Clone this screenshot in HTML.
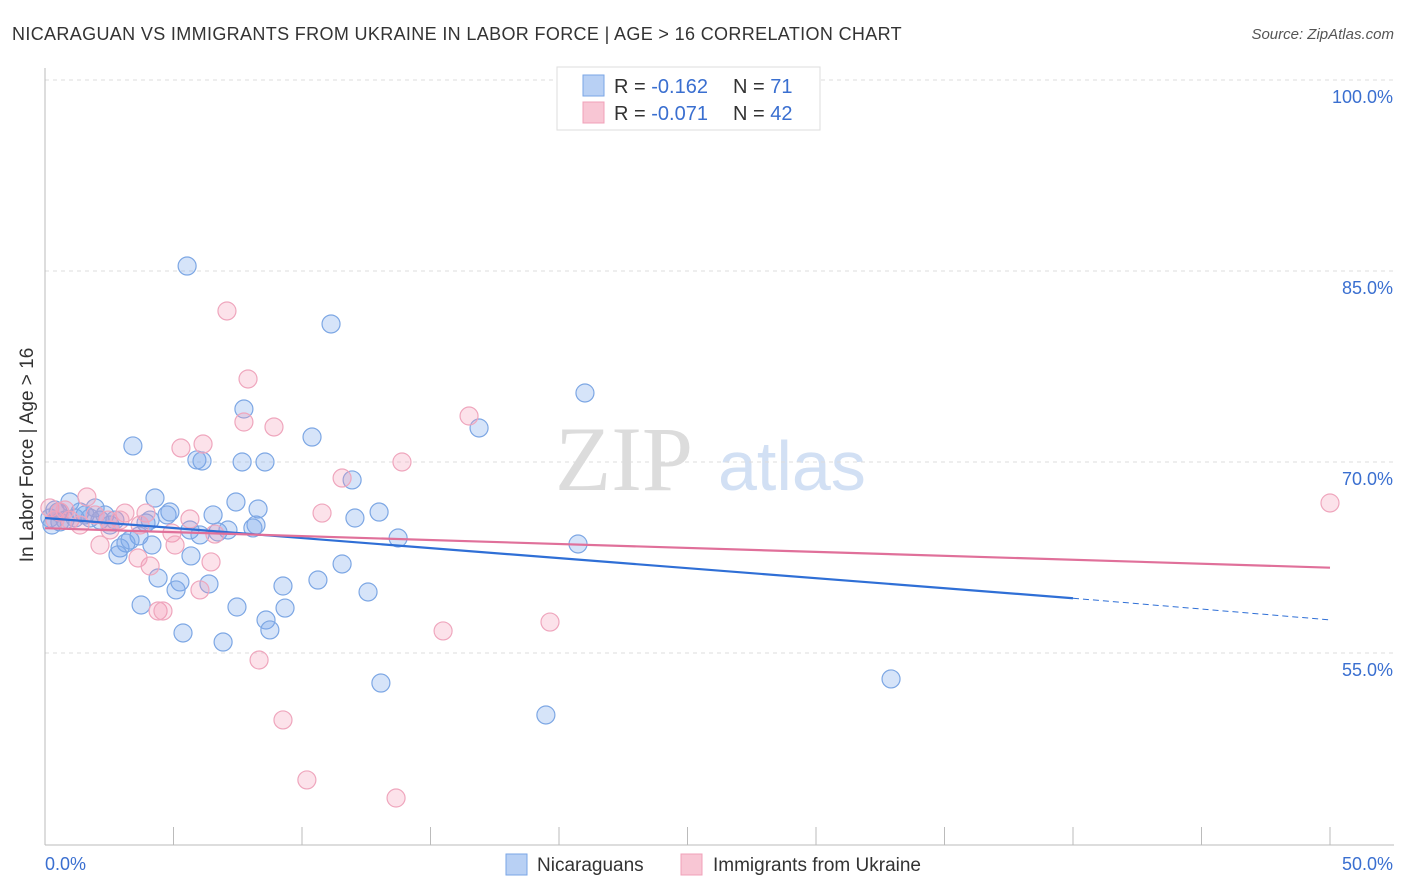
<!DOCTYPE html>
<html><head><meta charset="utf-8"><style>
body{margin:0;background:#fff;font-family:"Liberation Sans",sans-serif;}
#c{position:relative;width:1406px;height:892px;overflow:hidden;}
</style></head><body>
<div id="c">
<svg id="s" width="1406" height="892" xmlns="http://www.w3.org/2000/svg">
<text x="12" y="40" font-size="18" fill="#333" letter-spacing="0.35">NICARAGUAN VS IMMIGRANTS FROM UKRAINE IN LABOR FORCE | AGE &gt; 16 CORRELATION CHART</text>
<text x="1394" y="39" font-size="15" fill="#555" font-style="italic" text-anchor="end">Source: ZipAtlas.com</text>
<text x="555" y="490" font-size="92" fill="#dcdcdc" font-family="Liberation Serif,serif">ZIP</text>
<text x="718" y="490" font-size="70" fill="#d2e0f4">atlas</text>
<text transform="translate(33,455) rotate(-90)" font-size="19" fill="#333" text-anchor="middle">In Labor Force | Age &gt; 16</text>
<g id="grid"></g><g id="pts"></g><g id="trend"></g>
<g>
<rect x="557" y="67" width="263" height="63" fill="#fff" stroke="#ddd"/>
<rect x="583" y="75" width="21" height="21" fill="#b8d0f4" stroke="#7aa6e6"/>
<rect x="583" y="102" width="21" height="21" fill="#f8c6d4" stroke="#f0a0b8"/>
<text x="614" y="93" font-size="20" fill="#333">R = <tspan fill="#3a6fd0">-0.162</tspan></text>
<text x="733" y="93" font-size="20" fill="#333">N = <tspan fill="#3a6fd0"> 71</tspan></text>
<text x="614" y="120" font-size="20" fill="#333">R = <tspan fill="#3a6fd0">-0.071</tspan></text>
<text x="733" y="120" font-size="20" fill="#333">N = <tspan fill="#3a6fd0">42</tspan></text>
</g>
<g>
<rect x="506" y="854" width="21" height="21" fill="#b8d0f4" stroke="#7aa6e6"/>
<text x="537" y="871" font-size="19" fill="#333">Nicaraguans</text>
<rect x="681" y="854" width="21" height="21" fill="#f8c6d4" stroke="#f0a0b8"/>
<text x="713" y="871" font-size="19" fill="#333">Immigrants from Ukraine</text>
</g>
</svg></div>
<script>
const yTicks=[100,85,70,55];
const yTickLabels=["100.0%","85.0%","70.0%","55.0%"];
const xTicks=[0,5,10,15,20,25,30,35,40,45,50];
const blueX=[5.53,11.13,21.01,7.74,3.42,10.39,16.89,5.91,6.11,7.67,8.56,11.95,4.28,7.43,0.97,1.95,8.29,13.0,6.54,4.75,4.86,12.06,3.93,8.21,7.12,8.09,5.64,6.73,13.74,20.74,3.66,3.15,4.16,2.92,2.84,5.68,11.56,4.40,5.25,6.38,10.62,9.26,5.10,12.57,3.74,7.47,9.34,8.60,8.75,5.37,6.93,13.07,32.92,19.49,0.39,0.19,0.58,1.36,1.56,1.75,2.14,2.53,2.33,0.78,1.17,2.72,6.03,3.31,4.09,0.27,0.51];
const blueY=[85.39,80.84,75.42,74.16,71.26,71.96,72.67,70.16,70.08,70.0,70.0,68.59,67.17,66.86,66.86,66.39,66.31,66.07,65.84,65.84,66.07,65.6,65.21,65.05,64.66,64.82,64.66,64.5,64.03,63.56,64.19,63.64,63.48,63.25,62.7,62.62,61.99,60.89,60.58,60.42,60.73,60.26,59.95,59.79,58.77,58.61,58.53,57.59,56.81,56.57,55.86,52.64,52.96,50.13,66.23,65.6,65.29,66.07,65.84,65.6,65.44,65.05,65.84,65.44,65.6,65.44,64.27,63.87,65.44,65.05,66.07];
const pinkX=[7.08,7.90,7.74,8.91,5.29,6.15,16.50,13.89,11.56,1.63,10.78,3.93,5.64,3.11,2.45,6.61,4.94,5.06,2.14,4.09,3.62,6.46,6.03,4.40,4.59,8.33,15.49,19.65,9.26,10.19,13.66,50.0,0.19,0.58,0.97,1.36,0.39,0.78,1.95,2.92,3.70,2.53];
const pinkY=[81.86,76.52,73.14,72.75,71.10,71.41,73.61,70.0,68.74,67.25,65.99,65.99,65.52,65.99,65.44,64.34,64.42,63.48,63.48,61.83,62.46,62.15,59.95,58.30,58.30,54.45,56.73,57.43,49.74,45.03,43.61,66.78,66.39,66.07,65.44,65.05,65.44,66.23,65.84,65.44,65.05,64.66];
const blueTrend=[65.6,59.3,57.6]; // at x=0,40,50
const pinkTrend=[64.8,61.7]; // at x=0,50
const NS="http://www.w3.org/2000/svg";
const X=v=>45+v*25.7, Y=v=>80+(100-v)*12.733;
function mk(tag,attrs,parent){const e=document.createElementNS(NS,tag);for(const k in attrs)e.setAttribute(k,attrs[k]);document.getElementById(parent).appendChild(e);return e;}
yTicks.forEach((t,i)=>{
 const l=mk('line',{x1:45,x2:1394,y1:Y(t),y2:Y(t),stroke:'#ddd','stroke-dasharray':'4,4'},'grid');
 
 
 const tx=mk('text',{x:1393,y:Y(t)+23,'font-size':18,fill:'#3a6fd0','text-anchor':'end'},'grid');
 tx.textContent=yTickLabels[i];
 
 
});
const ax=mk('line',{x1:45,x2:45,y1:68,y2:845,stroke:'#bbb'},'grid');


const bx=mk('line',{x1:45,x2:1394,y1:845,y2:845,stroke:'#bbb'},'grid');


xTicks.forEach(t=>{
 const l=mk('line',{x1:X(t),x2:X(t),y1:827,y2:845,stroke:'#bbb'},'grid');
 
 
});
const xl0=mk('text',{x:45,y:870,'font-size':18,fill:'#3a6fd0'},'grid');xl0.textContent='0.0%';


const xl1=mk('text',{x:1393,y:870,'font-size':18,fill:'#3a6fd0','text-anchor':'end'},'grid');xl1.textContent='50.0%';


blueX.forEach((v,i)=>{
 const c=mk('circle',{cx:X(v),cy:Y(blueY[i]),r:9,fill:'rgba(120,165,235,0.3)',stroke:'#7da7e4','stroke-width':1.2},'pts');
 
 
});
pinkX.forEach((v,i)=>{
 const c=mk('circle',{cx:X(v),cy:Y(pinkY[i]),r:9,fill:'rgba(245,150,180,0.28)',stroke:'#efa6bd','stroke-width':1.2},'pts');
 
 
});
const b1=mk('line',{x1:X(0),y1:Y(blueTrend[0]),x2:X(40),y2:Y(blueTrend[1]),stroke:'#2f6fd6','stroke-width':2.2},'trend');


const b2=mk('line',{x1:X(40),y1:Y(blueTrend[1]),x2:X(50),y2:Y(blueTrend[2]),stroke:'#2f6fd6','stroke-width':1,'stroke-dasharray':'6,4'},'trend');


const p1=mk('line',{x1:X(0),y1:Y(pinkTrend[0]),x2:X(50),y2:Y(pinkTrend[1]),stroke:'#e0709a','stroke-width':2.2},'trend');


</script>
</body></html>
